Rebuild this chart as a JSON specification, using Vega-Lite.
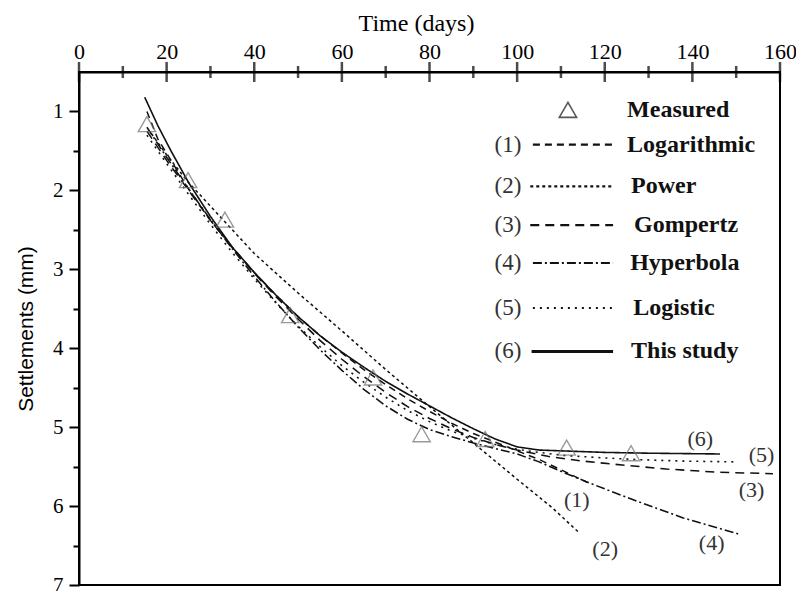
{
  "$schema": "https://vega.github.io/schema/vega-lite/v6.json",
  "width": 701,
  "height": 513,
  "autosize": {"type": "none"},
  "padding": {"left": 79, "top": 72, "right": 16, "bottom": 6},
  "background": "white",
  "config": {
    "view": {"stroke": "black", "strokeWidth": 2},
    "axis": {"domainColor": "black", "domainWidth": 2, "tickColor": "black", "tickWidth": 2, "grid": false, "labelColor": "black", "titleColor": "black", "labelFont": "Liberation Serif", "labelFontSize": 22, "titleFontWeight": "normal", "labelFlush": false, "labelOverlap": false}
  },
  "datasets": {
    "curves": [
      {"series": "1", "day": 15.5, "s": 1.0}, {"series": "1", "day": 18, "s": 1.35}, {"series": "1", "day": 21, "s": 1.62}, {"series": "1", "day": 25, "s": 1.98}, {"series": "1", "day": 30, "s": 2.38}, {"series": "1", "day": 35, "s": 2.72}, {"series": "1", "day": 40, "s": 3.04}, {"series": "1", "day": 45, "s": 3.33}, {"series": "1", "day": 50, "s": 3.6}, {"series": "1", "day": 55, "s": 3.84}, {"series": "1", "day": 60, "s": 4.06}, {"series": "1", "day": 65, "s": 4.27}, {"series": "1", "day": 70, "s": 4.46}, {"series": "1", "day": 75, "s": 4.64}, {"series": "1", "day": 80, "s": 4.8}, {"series": "1", "day": 85, "s": 4.95}, {"series": "1", "day": 90, "s": 5.08}, {"series": "1", "day": 95, "s": 5.19}, {"series": "1", "day": 100, "s": 5.3}, {"series": "1", "day": 105, "s": 5.41}, {"series": "1", "day": 110, "s": 5.54}, {"series": "1", "day": 116, "s": 5.7},
      {"series": "2", "day": 16.5, "s": 1.28}, {"series": "2", "day": 20, "s": 1.55}, {"series": "2", "day": 25, "s": 1.9}, {"series": "2", "day": 30, "s": 2.2}, {"series": "2", "day": 35, "s": 2.5}, {"series": "2", "day": 40, "s": 2.8}, {"series": "2", "day": 50, "s": 3.3}, {"series": "2", "day": 60, "s": 3.78}, {"series": "2", "day": 70, "s": 4.27}, {"series": "2", "day": 80, "s": 4.74}, {"series": "2", "day": 90, "s": 5.2}, {"series": "2", "day": 100, "s": 5.66}, {"series": "2", "day": 108, "s": 6.02}, {"series": "2", "day": 114, "s": 6.33},
      {"series": "3", "day": 15.5, "s": 1.25}, {"series": "3", "day": 20, "s": 1.62}, {"series": "3", "day": 25, "s": 2.0}, {"series": "3", "day": 30, "s": 2.38}, {"series": "3", "day": 35, "s": 2.73}, {"series": "3", "day": 40, "s": 3.05}, {"series": "3", "day": 45, "s": 3.35}, {"series": "3", "day": 50, "s": 3.63}, {"series": "3", "day": 55, "s": 3.9}, {"series": "3", "day": 60, "s": 4.14}, {"series": "3", "day": 65, "s": 4.36}, {"series": "3", "day": 70, "s": 4.56}, {"series": "3", "day": 75, "s": 4.74}, {"series": "3", "day": 80, "s": 4.89}, {"series": "3", "day": 85, "s": 5.02}, {"series": "3", "day": 90, "s": 5.13}, {"series": "3", "day": 95, "s": 5.22}, {"series": "3", "day": 100, "s": 5.29}, {"series": "3", "day": 107, "s": 5.37}, {"series": "3", "day": 115, "s": 5.43}, {"series": "3", "day": 124, "s": 5.48}, {"series": "3", "day": 134, "s": 5.53}, {"series": "3", "day": 145.5, "s": 5.57}, {"series": "3", "day": 158.4, "s": 5.59},
      {"series": "4", "day": 15.5, "s": 1.2}, {"series": "4", "day": 20, "s": 1.58}, {"series": "4", "day": 25, "s": 1.98}, {"series": "4", "day": 30, "s": 2.37}, {"series": "4", "day": 35, "s": 2.74}, {"series": "4", "day": 40, "s": 3.09}, {"series": "4", "day": 45, "s": 3.42}, {"series": "4", "day": 50, "s": 3.73}, {"series": "4", "day": 55, "s": 4.02}, {"series": "4", "day": 60, "s": 4.28}, {"series": "4", "day": 65, "s": 4.52}, {"series": "4", "day": 70, "s": 4.73}, {"series": "4", "day": 75, "s": 4.9}, {"series": "4", "day": 80, "s": 5.03}, {"series": "4", "day": 85, "s": 5.12}, {"series": "4", "day": 90, "s": 5.2}, {"series": "4", "day": 95, "s": 5.27}, {"series": "4", "day": 100, "s": 5.34}, {"series": "4", "day": 105, "s": 5.44}, {"series": "4", "day": 110, "s": 5.56}, {"series": "4", "day": 116.6, "s": 5.71}, {"series": "4", "day": 126.5, "s": 5.92}, {"series": "4", "day": 137.9, "s": 6.15}, {"series": "4", "day": 150.9, "s": 6.36},
      {"series": "5", "day": 15.5, "s": 1.3}, {"series": "5", "day": 20, "s": 1.66}, {"series": "5", "day": 25, "s": 2.05}, {"series": "5", "day": 30, "s": 2.43}, {"series": "5", "day": 35, "s": 2.79}, {"series": "5", "day": 40, "s": 3.12}, {"series": "5", "day": 45, "s": 3.43}, {"series": "5", "day": 50, "s": 3.72}, {"series": "5", "day": 55, "s": 3.98}, {"series": "5", "day": 60, "s": 4.22}, {"series": "5", "day": 65, "s": 4.43}, {"series": "5", "day": 70, "s": 4.62}, {"series": "5", "day": 75, "s": 4.79}, {"series": "5", "day": 80, "s": 4.93}, {"series": "5", "day": 85, "s": 5.05}, {"series": "5", "day": 90, "s": 5.14}, {"series": "5", "day": 95, "s": 5.22}, {"series": "5", "day": 100, "s": 5.28}, {"series": "5", "day": 105, "s": 5.32}, {"series": "5", "day": 111, "s": 5.36}, {"series": "5", "day": 120, "s": 5.39}, {"series": "5", "day": 127, "s": 5.41}, {"series": "5", "day": 138, "s": 5.43}, {"series": "5", "day": 150, "s": 5.44},
      {"series": "6", "day": 15.0, "s": 0.82}, {"series": "6", "day": 18, "s": 1.18}, {"series": "6", "day": 21, "s": 1.5}, {"series": "6", "day": 25, "s": 1.9}, {"series": "6", "day": 30, "s": 2.33}, {"series": "6", "day": 35, "s": 2.72}, {"series": "6", "day": 40, "s": 3.04}, {"series": "6", "day": 45, "s": 3.33}, {"series": "6", "day": 50, "s": 3.6}, {"series": "6", "day": 55, "s": 3.84}, {"series": "6", "day": 60, "s": 4.05}, {"series": "6", "day": 65, "s": 4.24}, {"series": "6", "day": 70, "s": 4.42}, {"series": "6", "day": 75, "s": 4.58}, {"series": "6", "day": 80, "s": 4.73}, {"series": "6", "day": 85, "s": 4.88}, {"series": "6", "day": 90, "s": 5.02}, {"series": "6", "day": 95, "s": 5.15}, {"series": "6", "day": 100, "s": 5.25}, {"series": "6", "day": 105, "s": 5.29}, {"series": "6", "day": 110, "s": 5.3}, {"series": "6", "day": 120, "s": 5.32}, {"series": "6", "day": 130, "s": 5.33}, {"series": "6", "day": 146.3, "s": 5.34}
    ],
    "measured": [
      {"day": 15.5, "s": 1.16}, {"day": 24.9, "s": 1.87}, {"day": 33.3, "s": 2.37}, {"day": 48.2, "s": 3.58}, {"day": 67.1, "s": 4.37}, {"day": 78.2, "s": 5.09}, {"day": 92.7, "s": 5.15}, {"day": 111.3, "s": 5.26}, {"day": 126, "s": 5.33}
    ],
    "majorTicks": [
      {"day": 0, "s": 0.5}, {"day": 20, "s": 0.5}, {"day": 40, "s": 0.5}, {"day": 60, "s": 0.5}, {"day": 80, "s": 0.5}, {"day": 100, "s": 0.5}, {"day": 120, "s": 0.5}, {"day": 140, "s": 0.5}, {"day": 160, "s": 0.5}
    ],
    "minorTicks": [
      {"day": 10, "s": 0.5}, {"day": 30, "s": 0.5}, {"day": 50, "s": 0.5}, {"day": 70, "s": 0.5}, {"day": 90, "s": 0.5}, {"day": 110, "s": 0.5}, {"day": 130, "s": 0.5}, {"day": 150, "s": 0.5}
    ],
    "curveLabels": [
      {"text": "(1)", "day": 113.6, "s": 5.92}, {"text": "(2)", "day": 120.1, "s": 6.55}, {"text": "(3)", "day": 153.5, "s": 5.8}, {"text": "(4)", "day": 144.4, "s": 6.47}, {"text": "(5)", "day": 155.8, "s": 5.35}, {"text": "(6)", "day": 141.8, "s": 5.15}
    ],
    "legend": [
      {"series": "1", "num": "(1)", "name": "Logarithmic", "s": 1.42, "x1": 103.6, "x2": 121.9, "nx": 97.9, "tx": 125.1},
      {"series": "2", "num": "(2)", "name": "Power", "s": 1.95, "x1": 103.0, "x2": 121.9, "nx": 97.9, "tx": 126.0},
      {"series": "3", "num": "(3)", "name": "Gompertz", "s": 2.44, "x1": 103.0, "x2": 121.9, "nx": 97.9, "tx": 126.7},
      {"series": "4", "num": "(4)", "name": "Hyperbola", "s": 2.92, "x1": 103.6, "x2": 121.9, "nx": 97.9, "tx": 125.8},
      {"series": "5", "num": "(5)", "name": "Logistic", "s": 3.49, "x1": 103.6, "x2": 121.9, "nx": 97.9, "tx": 126.5},
      {"series": "6", "num": "(6)", "name": "This study", "s": 4.04, "x1": 103.3, "x2": 121.9, "nx": 97.9, "tx": 126.0}
    ],
    "legendMeasured": [
      {"name": "Measured", "day": 111.6, "s": 0.98, "tx": 125.1}
    ]
  },
  "resolve": {"axis": {"y": "independent"}},
  "layer": [
    {
      "data": {"name": "curves"},
      "mark": {"type": "line", "color": "#111111", "clip": true},
      "encoding": {
        "x": {"field": "day", "type": "quantitative", "scale": {"domain": [0, 160], "nice": false, "zero": false},
              "axis": {"orient": "top", "values": [0, 20, 40, 60, 80, 100, 120, 140, 160], "ticks": false, "labelPadding": 9, "title": "Time (days)", "titleFont": "Liberation Serif", "titleFontSize": 24, "titlePadding": 5, "titleX": 337,
                       "encode": {"labels": {"update": {"dx": {"signal": "datum.value == 160 ? -8 : 0"}}}}}},
        "y": {"field": "s", "type": "quantitative", "scale": {"domain": [0.5, 7], "nice": false, "zero": false, "reverse": true},
              "axis": {"orient": "left", "values": [1, 2, 3, 4, 5, 6, 7], "tickSize": 10, "labelPadding": 6, "labelFontSize": 21, "title": "Settlements (mm)", "titleFont": "Liberation Sans", "titleFontSize": 21, "titlePadding": 16}},
        "detail": {"field": "series"},
        "strokeDash": {"field": "series", "type": "nominal", "legend": null,
                       "scale": {"domain": ["1", "2", "3", "4", "5", "6"], "range": [[7, 5], [3, 3], [9, 6], [9, 3, 2, 3], [2, 5], [1, 0]]}},
        "strokeWidth": {"field": "series", "type": "nominal", "legend": null,
                        "scale": {"domain": ["1", "2", "3", "4", "5", "6"], "range": [1.5, 1.6, 1.5, 1.5, 1.8, 1.8]}}
      }
    },
    {
      "data": {"name": "measured"},
      "mark": {"type": "point", "shape": "triangle-up", "size": 300, "filled": false, "color": "#707070", "strokeWidth": 1.4},
      "encoding": {
        "x": {"field": "day", "type": "quantitative"},
        "y": {"field": "s", "type": "quantitative",
              "axis": {"orient": "left", "values": [1.5, 2.5, 3.5, 4.5, 5.5, 6.5], "tickSize": 6, "labels": false, "domain": false, "title": null}}
      }
    },
    {
      "data": {"name": "majorTicks"},
      "mark": {"type": "tick", "orient": "vertical", "color": "black", "thickness": 2.5, "size": 20},
      "encoding": {
        "x": {"field": "day", "type": "quantitative"},
        "y": {"field": "s", "type": "quantitative", "axis": null}
      }
    },
    {
      "data": {"name": "minorTicks"},
      "mark": {"type": "tick", "orient": "vertical", "color": "black", "thickness": 2.5, "size": 12},
      "encoding": {
        "x": {"field": "day", "type": "quantitative"},
        "y": {"field": "s", "type": "quantitative", "axis": null}
      }
    },
    {
      "data": {"name": "curveLabels"},
      "mark": {"type": "text", "font": "Liberation Serif", "fontSize": 22, "color": "#333333", "align": "center", "baseline": "middle"},
      "encoding": {
        "x": {"field": "day", "type": "quantitative"},
        "y": {"field": "s", "type": "quantitative", "axis": null},
        "text": {"field": "text"}
      }
    },
    {
      "data": {"name": "legend"},
      "mark": {"type": "rule", "color": "#111111"},
      "encoding": {
        "x": {"field": "x1", "type": "quantitative"},
        "x2": {"field": "x2"},
        "y": {"field": "s", "type": "quantitative", "axis": null},
        "strokeDash": {"field": "series", "type": "nominal", "legend": null},
        "strokeWidth": {"condition": {"test": "datum.series == '6'", "value": 3}, "value": 2.2}
      }
    },
    {
      "data": {"name": "legend"},
      "mark": {"type": "text", "font": "Liberation Serif", "fontSize": 23, "color": "#333333", "align": "center", "baseline": "middle"},
      "encoding": {
        "x": {"field": "nx", "type": "quantitative"},
        "y": {"field": "s", "type": "quantitative", "axis": null},
        "text": {"field": "num"}
      }
    },
    {
      "data": {"name": "legend"},
      "mark": {"type": "text", "font": "Liberation Serif", "fontSize": 24, "fontWeight": "bold", "color": "#111111", "align": "left", "baseline": "middle"},
      "encoding": {
        "x": {"field": "tx", "type": "quantitative"},
        "y": {"field": "s", "type": "quantitative", "axis": null},
        "text": {"field": "name"}
      }
    },
    {
      "data": {"name": "legendMeasured"},
      "mark": {"type": "point", "shape": "triangle-up", "size": 300, "filled": false, "color": "#111111", "strokeWidth": 1.6},
      "encoding": {
        "x": {"field": "day", "type": "quantitative"},
        "y": {"field": "s", "type": "quantitative", "axis": null}
      }
    },
    {
      "data": {"name": "legendMeasured"},
      "mark": {"type": "text", "font": "Liberation Serif", "fontSize": 24, "fontWeight": "bold", "color": "#111111", "align": "left", "baseline": "middle"},
      "encoding": {
        "x": {"field": "tx", "type": "quantitative"},
        "y": {"field": "s", "type": "quantitative", "axis": null},
        "text": {"field": "name"}
      }
    }
  ]
}
